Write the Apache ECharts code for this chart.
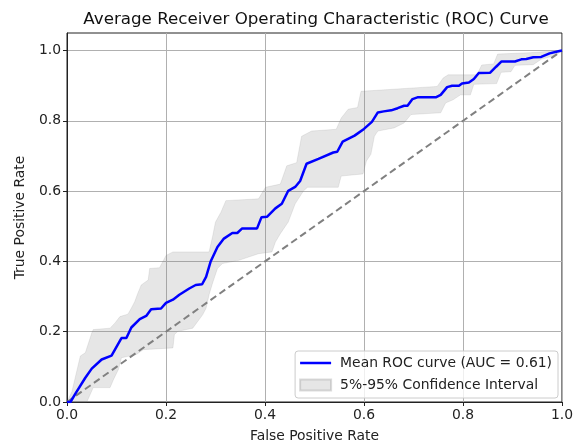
<!DOCTYPE html>
<html>
<head>
<meta charset="utf-8">
<script src="https://cdn.jsdelivr.net/npm/echarts@6/dist/echarts.min.js"></script>
<style>
  html, body { margin: 0; padding: 0; background: #ffffff; }
  #chart { width: 576px; height: 448px; }
</style>
</head>
<body>
<div id="chart"></div>
<script>
// Mean ROC curve (false positive rate -> true positive rate)
const meanFpr = [0, 0.007, 0.017, 0.037, 0.05, 0.07, 0.09, 0.11, 0.12, 0.13, 0.147, 0.16, 0.17, 0.19, 0.2,
  0.214, 0.227, 0.247, 0.26, 0.273, 0.281, 0.29, 0.304, 0.317, 0.334, 0.344, 0.354, 0.384, 0.393, 0.404,
  0.421, 0.434, 0.447, 0.461, 0.471, 0.484, 0.508, 0.538, 0.546, 0.557, 0.581, 0.6, 0.616, 0.628, 0.64,
  0.655, 0.668, 0.681, 0.688, 0.698, 0.708, 0.745, 0.755, 0.768, 0.778, 0.792, 0.798, 0.812, 0.822, 0.832,
  0.855, 0.867, 0.878, 0.905, 0.918, 0.928, 0.942, 0.958, 0.975, 0.995, 1];
const meanTpr = [0, 0, 0.024, 0.069, 0.095, 0.121, 0.132, 0.182, 0.182, 0.212, 0.236, 0.245, 0.264, 0.266, 0.282,
  0.291, 0.305, 0.323, 0.333, 0.335, 0.356, 0.399, 0.441, 0.465, 0.481, 0.481, 0.494, 0.494, 0.526, 0.527,
  0.551, 0.564, 0.601, 0.612, 0.629, 0.678, 0.692, 0.71, 0.712, 0.741, 0.758, 0.777, 0.797, 0.824, 0.827,
  0.83, 0.836, 0.843, 0.843, 0.862, 0.867, 0.867, 0.874, 0.896, 0.9, 0.9, 0.906, 0.909, 0.919, 0.936,
  0.937, 0.954, 0.969, 0.969, 0.975, 0.976, 0.981, 0.982, 0.992, 0.999, 1];

// 95th percentile boundary of the confidence band
const upperFpr = [0, 0.01, 0.027, 0.037, 0.05, 0.053, 0.087, 0.097, 0.107, 0.123, 0.13, 0.137, 0.143, 0.15,
  0.164, 0.167, 0.187, 0.2, 0.214, 0.287, 0.294, 0.3, 0.311, 0.321, 0.387, 0.401, 0.431, 0.444, 0.464,
  0.474, 0.494, 0.544, 0.554, 0.568, 0.587, 0.594, 0.748, 0.76, 0.77, 0.828, 0.838, 0.862, 0.87, 0.936, 1];
const upperTpr = [0, 0.03, 0.131, 0.14, 0.196, 0.206, 0.21, 0.225, 0.243, 0.25, 0.267, 0.286, 0.309, 0.333,
  0.347, 0.38, 0.382, 0.417, 0.427, 0.427, 0.47, 0.512, 0.54, 0.573, 0.578, 0.611, 0.62, 0.672, 0.681,
  0.756, 0.771, 0.776, 0.808, 0.833, 0.838, 0.884, 0.898, 0.922, 0.931, 0.931, 0.959, 0.962, 0.99, 0.994, 1];

// 5th percentile boundary of the confidence band
const lowerFpr = [0, 0.04, 0.047, 0.053, 0.087, 0.094, 0.104, 0.11, 0.14, 0.154, 0.214, 0.217, 0.224, 0.254,
  0.274, 0.281, 0.287, 0.294, 0.304, 0.314, 0.347, 0.387, 0.414, 0.421, 0.431, 0.447, 0.461, 0.478, 0.486,
  0.548, 0.554, 0.598, 0.605, 0.614, 0.621, 0.628, 0.661, 0.681, 0.695, 0.755, 0.765, 0.78, 0.795, 0.815,
  0.822, 0.868, 0.877, 0.897, 0.905, 0.942, 0.958, 0.988, 1];
const lowerTpr = [0, 0, 0.022, 0.041, 0.041, 0.064, 0.093, 0.126, 0.135, 0.149, 0.154, 0.192, 0.201, 0.21,
  0.248, 0.267, 0.305, 0.338, 0.38, 0.394, 0.403, 0.422, 0.427, 0.455, 0.479, 0.512, 0.564, 0.601, 0.611,
  0.611, 0.643, 0.649, 0.686, 0.705, 0.756, 0.771, 0.78, 0.794, 0.818, 0.823, 0.851, 0.86, 0.874, 0.874,
  0.904, 0.906, 0.938, 0.94, 0.958, 0.96, 0.975, 0.987, 1];

// Chance-level diagonal
const chanceFpr = [0, 1];
const chanceTpr = [0, 1];

const tickValues = [0, 0.2, 0.4, 0.6, 0.8, 1.0];
const titleText = 'Average Receiver Operating Characteristic (ROC) Curve';
const xName = 'False Positive Rate';
const yName = 'True Positive Rate';
const meanName = 'Mean ROC curve (AUC = 0.61)';
const bandName = '5%-95% Confidence Interval';

const FONT = 'DejaVu Sans';
const INK = '#222222';
const FS = 13.9;
const bandFill = 'rgba(128,128,128,0.2)';

const zip = (xs, ys) => xs.map((x, i) => [x, ys[i]]);

const chart = echarts.init(document.getElementById('chart'), null, { renderer: 'canvas' });

const axisCommon = {
  type: 'value',
  min: 0,
  interval: 0.2,
  nameLocation: 'middle',
  nameTextStyle: { fontFamily: FONT, fontSize: FS, color: INK },
  axisLine: { show: true, onZero: false, lineStyle: { color: INK, width: 1 } },
  axisTick: { show: true, inside: false, length: 4, customValues: tickValues, lineStyle: { color: INK, width: 1 } },
  axisLabel: {
    customValues: tickValues,
    fontFamily: FONT, fontSize: FS, color: INK,
    formatter: v => v.toFixed(1)
  },
  splitLine: { show: true, lineStyle: { color: '#b0b0b0', width: 1 } }
};

chart.setOption({
  animation: false,
  backgroundColor: '#ffffff',
  title: {
    text: titleText,
    left: 311,
    top: 6,
    textAlign: 'center',
    textStyle: { fontFamily: FONT, fontSize: 16.7, fontWeight: 'normal', color: '#111' }
  },
  grid: {
    left: 67, top: 33, width: 499, height: 371.5,
    show: true, borderColor: INK, borderWidth: 1, backgroundColor: 'transparent'
  },
  xAxis: Object.assign({}, axisCommon, {
    max: 1, name: xName, nameGap: 27,
    axisLabel: Object.assign({}, axisCommon.axisLabel, { margin: 6 })
  }),
  yAxis: Object.assign({}, axisCommon, {
    max: 1.05, name: yName, nameGap: 40,
    axisLabel: Object.assign({}, axisCommon.axisLabel, { margin: 6 })
  }),
  legend: {
    orient: 'vertical',
    right: 18,
    bottom: 50,
    padding: [4, 6, 5, 4],
    itemGap: 6,
    itemWidth: 31,
    itemHeight: 11,
    backgroundColor: 'rgba(255,255,255,0.8)',
    borderColor: '#cccccc',
    borderWidth: 1,
    borderRadius: 3,
    textStyle: { fontFamily: FONT, fontSize: FS, color: INK, lineHeight: 16, padding: [0, 0, 0, 4] },
    data: [
      { name: meanName, icon: 'path://M0,0L31,0L31,2.5L0,2.5Z', itemStyle: { color: '#0000ff' } },
      { name: bandName, icon: 'rect' }
    ]
  },
  series: [
    {
      name: bandName,
      type: 'custom',
      z: 1,
      silent: true,
      itemStyle: { color: bandFill, borderColor: 'rgba(128,128,128,0.28)', borderWidth: 1 },
      data: [[0, 0]],
      renderItem: function (params, api) {
        const pts = [];
        for (let i = 0; i < upperFpr.length; i++) pts.push(api.coord([upperFpr[i], upperTpr[i]]));
        for (let i = lowerFpr.length - 1; i >= 0; i--) pts.push(api.coord([lowerFpr[i], lowerTpr[i]]));
        return {
          type: 'polygon',
          shape: { points: pts },
          style: { fill: bandFill, stroke: 'rgba(128,128,128,0.15)', lineWidth: 1 }
        };
      }
    },
    {
      name: 'chance',
      type: 'line',
      z: 3,
      data: zip(chanceFpr, chanceTpr),
      symbol: 'none',
      silent: true,
      lineStyle: { color: '#808080', width: 2, type: [7, 4] }
    },
    {
      name: meanName,
      type: 'line',
      z: 4,
      data: zip(meanFpr, meanTpr),
      symbol: 'none',
      silent: true,
      lineStyle: { color: '#0000ff', width: 2.5 },
      itemStyle: { color: '#0000ff' }
    }
  ]
});
</script>
</body>
</html>
